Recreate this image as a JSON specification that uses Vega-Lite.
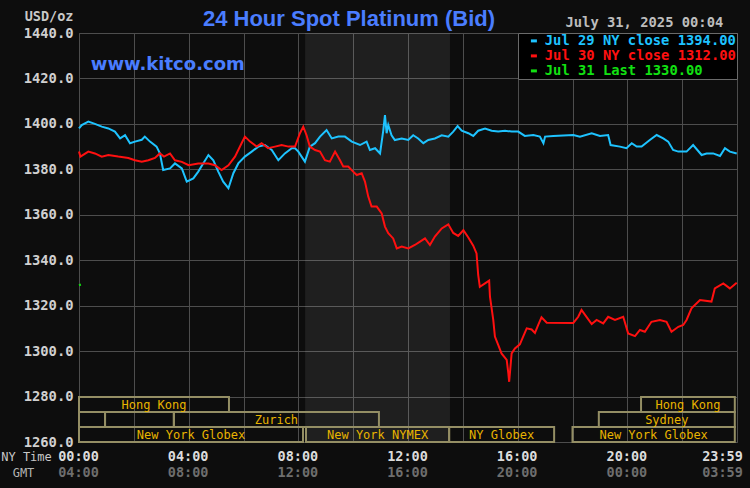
{
  "$schema": "https://vega.github.io/schema/vega-lite/v6.json",
  "width": 658,
  "height": 409,
  "autosize": {"type": "none"},
  "padding": {"left": 79, "top": 33, "right": 13, "bottom": 46},
  "background": "#0d0d0d",
  "title": {
    "text": "24 Hour Spot Platinum (Bid)",
    "font": "Liberation Sans",
    "fontSize": 22,
    "fontWeight": "bold",
    "color": "#4a7dff",
    "anchor": "middle",
    "dx": -59,
    "offset": -39,
    "baseline": "alphabetic"
  },
  "config": {
    "view": {"stroke": "#4d4d4d", "strokeWidth": 1},
    "legend": {
      "orient": "top-right",
      "offset": 0,
      "padding": 1,
      "fillColor": "#000000",
      "strokeColor": "#6a6a6a",
      "symbolType": "stroke",
      "symbolSize": 36,
      "symbolStrokeWidth": 3,
      "symbolOffset": 8,
      "labelFont": "DejaVu Sans Mono",
      "labelFontWeight": "bold",
      "labelFontSize": 13.8,
      "labelOffset": 4,
      "labelLimit": 400,
      "rowPadding": 0
    }
  },
  "datasets": {
    "nymex": [{"start": 8.25, "end": 13.53}],
    "sessions": [
      {"id": 1, "session": "Hong Kong", "lane": "1", "start": 0, "end": 5.47},
      {"id": 2, "session": "", "lane": "2", "start": 0, "end": 0.95},
      {"id": 3, "session": "", "lane": "2", "start": 0.95, "end": 3.46},
      {"id": 4, "session": "Zurich", "lane": "2", "start": 3.46, "end": 10.94},
      {"id": 5, "session": "New York Globex", "lane": "3", "start": 0, "end": 8.17},
      {"id": 6, "session": "New York NYMEX", "lane": "3", "start": 8.28, "end": 13.5},
      {"id": 7, "session": "NY Globex", "lane": "3", "start": 13.5, "end": 17.33},
      {"id": 8, "session": "New York Globex", "lane": "3", "start": 18.0, "end": 23.92},
      {"id": 9, "session": "Sydney", "lane": "2", "start": 18.96, "end": 23.92},
      {"id": 10, "session": "Hong Kong", "lane": "1", "start": 20.5, "end": 23.92}
    ],
    "prices": [
      {"series": "Jul 29 NY close 1394.00", "hour": 0, "price": 1398},
      {"series": "Jul 29 NY close 1394.00", "hour": 0.1, "price": 1399.5},
      {"series": "Jul 29 NY close 1394.00", "hour": 0.34, "price": 1401},
      {"series": "Jul 29 NY close 1394.00", "hour": 0.58, "price": 1400},
      {"series": "Jul 29 NY close 1394.00", "hour": 0.83, "price": 1398.8},
      {"series": "Jul 29 NY close 1394.00", "hour": 1.07, "price": 1398},
      {"series": "Jul 29 NY close 1394.00", "hour": 1.31, "price": 1396.6},
      {"series": "Jul 29 NY close 1394.00", "hour": 1.5, "price": 1393.6},
      {"series": "Jul 29 NY close 1394.00", "hour": 1.68, "price": 1395},
      {"series": "Jul 29 NY close 1394.00", "hour": 1.86, "price": 1391.5},
      {"series": "Jul 29 NY close 1394.00", "hour": 2.04, "price": 1392.2},
      {"series": "Jul 29 NY close 1394.00", "hour": 2.29, "price": 1393},
      {"series": "Jul 29 NY close 1394.00", "hour": 2.4, "price": 1394.4},
      {"series": "Jul 29 NY close 1394.00", "hour": 2.59, "price": 1392.2},
      {"series": "Jul 29 NY close 1394.00", "hour": 2.83, "price": 1390},
      {"series": "Jul 29 NY close 1394.00", "hour": 2.95, "price": 1387},
      {"series": "Jul 29 NY close 1394.00", "hour": 3.07, "price": 1379.7},
      {"series": "Jul 29 NY close 1394.00", "hour": 3.32, "price": 1380.4},
      {"series": "Jul 29 NY close 1394.00", "hour": 3.5, "price": 1382.6},
      {"series": "Jul 29 NY close 1394.00", "hour": 3.75, "price": 1380.4},
      {"series": "Jul 29 NY close 1394.00", "hour": 3.93, "price": 1374.6},
      {"series": "Jul 29 NY close 1394.00", "hour": 4.17, "price": 1376},
      {"series": "Jul 29 NY close 1394.00", "hour": 4.35, "price": 1379},
      {"series": "Jul 29 NY close 1394.00", "hour": 4.53, "price": 1382.6},
      {"series": "Jul 29 NY close 1394.00", "hour": 4.72, "price": 1386.3},
      {"series": "Jul 29 NY close 1394.00", "hour": 4.9, "price": 1384},
      {"series": "Jul 29 NY close 1394.00", "hour": 5.08, "price": 1379},
      {"series": "Jul 29 NY close 1394.00", "hour": 5.26, "price": 1374.6},
      {"series": "Jul 29 NY close 1394.00", "hour": 5.45, "price": 1371.7},
      {"series": "Jul 29 NY close 1394.00", "hour": 5.63, "price": 1378.3},
      {"series": "Jul 29 NY close 1394.00", "hour": 5.81, "price": 1382.6},
      {"series": "Jul 29 NY close 1394.00", "hour": 6.05, "price": 1385.6},
      {"series": "Jul 29 NY close 1394.00", "hour": 6.3, "price": 1387.8},
      {"series": "Jul 29 NY close 1394.00", "hour": 6.54, "price": 1390},
      {"series": "Jul 29 NY close 1394.00", "hour": 6.78, "price": 1390.7},
      {"series": "Jul 29 NY close 1394.00", "hour": 7.03, "price": 1388.5},
      {"series": "Jul 29 NY close 1394.00", "hour": 7.27, "price": 1384},
      {"series": "Jul 29 NY close 1394.00", "hour": 7.51, "price": 1387},
      {"series": "Jul 29 NY close 1394.00", "hour": 7.76, "price": 1389.3},
      {"series": "Jul 29 NY close 1394.00", "hour": 7.88, "price": 1389.3},
      {"series": "Jul 29 NY close 1394.00", "hour": 8.0, "price": 1387.8},
      {"series": "Jul 29 NY close 1394.00", "hour": 8.24, "price": 1383.4},
      {"series": "Jul 29 NY close 1394.00", "hour": 8.42, "price": 1390},
      {"series": "Jul 29 NY close 1394.00", "hour": 8.61, "price": 1391.5},
      {"series": "Jul 29 NY close 1394.00", "hour": 8.79, "price": 1394.4},
      {"series": "Jul 29 NY close 1394.00", "hour": 9.03, "price": 1397.3},
      {"series": "Jul 29 NY close 1394.00", "hour": 9.22, "price": 1393.6},
      {"series": "Jul 29 NY close 1394.00", "hour": 9.46, "price": 1394.4},
      {"series": "Jul 29 NY close 1394.00", "hour": 9.7, "price": 1394.4},
      {"series": "Jul 29 NY close 1394.00", "hour": 9.95, "price": 1392.2},
      {"series": "Jul 29 NY close 1394.00", "hour": 10.25, "price": 1390.7},
      {"series": "Jul 29 NY close 1394.00", "hour": 10.49, "price": 1392.2},
      {"series": "Jul 29 NY close 1394.00", "hour": 10.61, "price": 1388.5},
      {"series": "Jul 29 NY close 1394.00", "hour": 10.8, "price": 1389.3},
      {"series": "Jul 29 NY close 1394.00", "hour": 10.98, "price": 1387},
      {"series": "Jul 29 NY close 1394.00", "hour": 11.1, "price": 1397.3},
      {"series": "Jul 29 NY close 1394.00", "hour": 11.16, "price": 1403.9},
      {"series": "Jul 29 NY close 1394.00", "hour": 11.22, "price": 1395.9},
      {"series": "Jul 29 NY close 1394.00", "hour": 11.28, "price": 1399.5},
      {"series": "Jul 29 NY close 1394.00", "hour": 11.4, "price": 1395},
      {"series": "Jul 29 NY close 1394.00", "hour": 11.52, "price": 1392.9},
      {"series": "Jul 29 NY close 1394.00", "hour": 11.77, "price": 1393.6},
      {"series": "Jul 29 NY close 1394.00", "hour": 12.01, "price": 1392.9},
      {"series": "Jul 29 NY close 1394.00", "hour": 12.19, "price": 1395},
      {"series": "Jul 29 NY close 1394.00", "hour": 12.37, "price": 1393.6},
      {"series": "Jul 29 NY close 1394.00", "hour": 12.56, "price": 1391.5},
      {"series": "Jul 29 NY close 1394.00", "hour": 12.74, "price": 1392.9},
      {"series": "Jul 29 NY close 1394.00", "hour": 12.98, "price": 1393.6},
      {"series": "Jul 29 NY close 1394.00", "hour": 13.23, "price": 1395},
      {"series": "Jul 29 NY close 1394.00", "hour": 13.47, "price": 1394.4},
      {"series": "Jul 29 NY close 1394.00", "hour": 13.65, "price": 1396.6},
      {"series": "Jul 29 NY close 1394.00", "hour": 13.81, "price": 1399},
      {"series": "Jul 29 NY close 1394.00", "hour": 13.96, "price": 1397},
      {"series": "Jul 29 NY close 1394.00", "hour": 14.2, "price": 1395.9},
      {"series": "Jul 29 NY close 1394.00", "hour": 14.38, "price": 1394.7},
      {"series": "Jul 29 NY close 1394.00", "hour": 14.56, "price": 1397},
      {"series": "Jul 29 NY close 1394.00", "hour": 14.81, "price": 1398},
      {"series": "Jul 29 NY close 1394.00", "hour": 15.05, "price": 1397},
      {"series": "Jul 29 NY close 1394.00", "hour": 15.29, "price": 1396.6},
      {"series": "Jul 29 NY close 1394.00", "hour": 15.54, "price": 1397},
      {"series": "Jul 29 NY close 1394.00", "hour": 15.78, "price": 1396.6},
      {"series": "Jul 29 NY close 1394.00", "hour": 16.02, "price": 1396.6},
      {"series": "Jul 29 NY close 1394.00", "hour": 16.26, "price": 1394.7},
      {"series": "Jul 29 NY close 1394.00", "hour": 16.57, "price": 1395.1},
      {"series": "Jul 29 NY close 1394.00", "hour": 16.81, "price": 1394.4},
      {"series": "Jul 29 NY close 1394.00", "hour": 16.94, "price": 1391.5},
      {"series": "Jul 29 NY close 1394.00", "hour": 17.0, "price": 1394.4},
      {"series": "Jul 29 NY close 1394.00", "hour": 17.3, "price": 1394.7},
      {"series": "Jul 29 NY close 1394.00", "hour": 18.03, "price": 1395.1},
      {"series": "Jul 29 NY close 1394.00", "hour": 18.27, "price": 1394.4},
      {"series": "Jul 29 NY close 1394.00", "hour": 18.7, "price": 1395.9},
      {"series": "Jul 29 NY close 1394.00", "hour": 19.0, "price": 1394.7},
      {"series": "Jul 29 NY close 1394.00", "hour": 19.3, "price": 1395.1},
      {"series": "Jul 29 NY close 1394.00", "hour": 19.39, "price": 1390.7},
      {"series": "Jul 29 NY close 1394.00", "hour": 19.73, "price": 1390},
      {"series": "Jul 29 NY close 1394.00", "hour": 19.97, "price": 1389.3},
      {"series": "Jul 29 NY close 1394.00", "hour": 20.16, "price": 1391.5},
      {"series": "Jul 29 NY close 1394.00", "hour": 20.34, "price": 1390},
      {"series": "Jul 29 NY close 1394.00", "hour": 20.52, "price": 1390},
      {"series": "Jul 29 NY close 1394.00", "hour": 20.82, "price": 1392.9},
      {"series": "Jul 29 NY close 1394.00", "hour": 21.07, "price": 1395.1},
      {"series": "Jul 29 NY close 1394.00", "hour": 21.31, "price": 1393.6},
      {"series": "Jul 29 NY close 1394.00", "hour": 21.49, "price": 1392.2},
      {"series": "Jul 29 NY close 1394.00", "hour": 21.67, "price": 1388.5},
      {"series": "Jul 29 NY close 1394.00", "hour": 21.86, "price": 1387.8},
      {"series": "Jul 29 NY close 1394.00", "hour": 22.16, "price": 1387.8},
      {"series": "Jul 29 NY close 1394.00", "hour": 22.4, "price": 1390.7},
      {"series": "Jul 29 NY close 1394.00", "hour": 22.71, "price": 1386.3},
      {"series": "Jul 29 NY close 1394.00", "hour": 22.89, "price": 1387},
      {"series": "Jul 29 NY close 1394.00", "hour": 23.13, "price": 1387},
      {"series": "Jul 29 NY close 1394.00", "hour": 23.38, "price": 1385.9},
      {"series": "Jul 29 NY close 1394.00", "hour": 23.56, "price": 1389.3},
      {"series": "Jul 29 NY close 1394.00", "hour": 23.74, "price": 1387.8},
      {"series": "Jul 29 NY close 1394.00", "hour": 23.99, "price": 1387},
      {"series": "Jul 30 NY close 1312.00", "hour": 0, "price": 1387.8},
      {"series": "Jul 30 NY close 1312.00", "hour": 0.05, "price": 1385.6},
      {"series": "Jul 30 NY close 1312.00", "hour": 0.34, "price": 1387.8},
      {"series": "Jul 30 NY close 1312.00", "hour": 0.58, "price": 1387},
      {"series": "Jul 30 NY close 1312.00", "hour": 0.83, "price": 1385.6},
      {"series": "Jul 30 NY close 1312.00", "hour": 1.07, "price": 1386.3},
      {"series": "Jul 30 NY close 1312.00", "hour": 1.43, "price": 1385.6},
      {"series": "Jul 30 NY close 1312.00", "hour": 1.8, "price": 1385},
      {"series": "Jul 30 NY close 1312.00", "hour": 2.04, "price": 1384},
      {"series": "Jul 30 NY close 1312.00", "hour": 2.29, "price": 1383.3},
      {"series": "Jul 30 NY close 1312.00", "hour": 2.53, "price": 1384},
      {"series": "Jul 30 NY close 1312.00", "hour": 2.77, "price": 1385},
      {"series": "Jul 30 NY close 1312.00", "hour": 2.95, "price": 1387},
      {"series": "Jul 30 NY close 1312.00", "hour": 3.1, "price": 1385.6},
      {"series": "Jul 30 NY close 1312.00", "hour": 3.32, "price": 1387},
      {"series": "Jul 30 NY close 1312.00", "hour": 3.5, "price": 1384},
      {"series": "Jul 30 NY close 1312.00", "hour": 3.75, "price": 1383.3},
      {"series": "Jul 30 NY close 1312.00", "hour": 4.0, "price": 1381.8},
      {"series": "Jul 30 NY close 1312.00", "hour": 4.35, "price": 1382.6},
      {"series": "Jul 30 NY close 1312.00", "hour": 4.72, "price": 1382.6},
      {"series": "Jul 30 NY close 1312.00", "hour": 4.96, "price": 1381.8},
      {"series": "Jul 30 NY close 1312.00", "hour": 5.2, "price": 1379.7},
      {"series": "Jul 30 NY close 1312.00", "hour": 5.45, "price": 1381.8},
      {"series": "Jul 30 NY close 1312.00", "hour": 5.69, "price": 1385.6},
      {"series": "Jul 30 NY close 1312.00", "hour": 5.93, "price": 1391.5},
      {"series": "Jul 30 NY close 1312.00", "hour": 6.05, "price": 1394.4},
      {"series": "Jul 30 NY close 1312.00", "hour": 6.24, "price": 1392.2},
      {"series": "Jul 30 NY close 1312.00", "hour": 6.48, "price": 1390},
      {"series": "Jul 30 NY close 1312.00", "hour": 6.66, "price": 1391.5},
      {"series": "Jul 30 NY close 1312.00", "hour": 6.9, "price": 1389.3},
      {"series": "Jul 30 NY close 1312.00", "hour": 7.15, "price": 1390},
      {"series": "Jul 30 NY close 1312.00", "hour": 7.39, "price": 1390.7},
      {"series": "Jul 30 NY close 1312.00", "hour": 7.64, "price": 1390},
      {"series": "Jul 30 NY close 1312.00", "hour": 7.88, "price": 1390},
      {"series": "Jul 30 NY close 1312.00", "hour": 8.06, "price": 1395.9},
      {"series": "Jul 30 NY close 1312.00", "hour": 8.18, "price": 1398.8},
      {"series": "Jul 30 NY close 1312.00", "hour": 8.3, "price": 1395},
      {"series": "Jul 30 NY close 1312.00", "hour": 8.42, "price": 1390},
      {"series": "Jul 30 NY close 1312.00", "hour": 8.61, "price": 1388.5},
      {"series": "Jul 30 NY close 1312.00", "hour": 8.79, "price": 1387.8},
      {"series": "Jul 30 NY close 1312.00", "hour": 8.97, "price": 1384},
      {"series": "Jul 30 NY close 1312.00", "hour": 9.15, "price": 1383.4},
      {"series": "Jul 30 NY close 1312.00", "hour": 9.34, "price": 1387.8},
      {"series": "Jul 30 NY close 1312.00", "hour": 9.52, "price": 1384},
      {"series": "Jul 30 NY close 1312.00", "hour": 9.64, "price": 1381.2},
      {"series": "Jul 30 NY close 1312.00", "hour": 9.82, "price": 1381.2},
      {"series": "Jul 30 NY close 1312.00", "hour": 10.0, "price": 1379},
      {"series": "Jul 30 NY close 1312.00", "hour": 10.13, "price": 1377.5},
      {"series": "Jul 30 NY close 1312.00", "hour": 10.31, "price": 1378.3},
      {"series": "Jul 30 NY close 1312.00", "hour": 10.43, "price": 1374.6},
      {"series": "Jul 30 NY close 1312.00", "hour": 10.55, "price": 1368},
      {"series": "Jul 30 NY close 1312.00", "hour": 10.67, "price": 1363.6},
      {"series": "Jul 30 NY close 1312.00", "hour": 10.86, "price": 1363.6},
      {"series": "Jul 30 NY close 1312.00", "hour": 11.04, "price": 1360.6},
      {"series": "Jul 30 NY close 1312.00", "hour": 11.16, "price": 1354.8},
      {"series": "Jul 30 NY close 1312.00", "hour": 11.28, "price": 1351.9},
      {"series": "Jul 30 NY close 1312.00", "hour": 11.46, "price": 1349.6},
      {"series": "Jul 30 NY close 1312.00", "hour": 11.59, "price": 1345.2},
      {"series": "Jul 30 NY close 1312.00", "hour": 11.77, "price": 1346},
      {"series": "Jul 30 NY close 1312.00", "hour": 12.01, "price": 1345.2},
      {"series": "Jul 30 NY close 1312.00", "hour": 12.25, "price": 1346.7},
      {"series": "Jul 30 NY close 1312.00", "hour": 12.44, "price": 1348.2},
      {"series": "Jul 30 NY close 1312.00", "hour": 12.62, "price": 1349.6},
      {"series": "Jul 30 NY close 1312.00", "hour": 12.8, "price": 1346.7},
      {"series": "Jul 30 NY close 1312.00", "hour": 12.98, "price": 1350.4},
      {"series": "Jul 30 NY close 1312.00", "hour": 13.23, "price": 1354},
      {"series": "Jul 30 NY close 1312.00", "hour": 13.47, "price": 1355.8},
      {"series": "Jul 30 NY close 1312.00", "hour": 13.65, "price": 1352},
      {"series": "Jul 30 NY close 1312.00", "hour": 13.83, "price": 1350.7},
      {"series": "Jul 30 NY close 1312.00", "hour": 14.02, "price": 1353.2},
      {"series": "Jul 30 NY close 1312.00", "hour": 14.2, "price": 1350},
      {"series": "Jul 30 NY close 1312.00", "hour": 14.38, "price": 1346.4},
      {"series": "Jul 30 NY close 1312.00", "hour": 14.5, "price": 1343},
      {"series": "Jul 30 NY close 1312.00", "hour": 14.56, "price": 1333.5},
      {"series": "Jul 30 NY close 1312.00", "hour": 14.62, "price": 1328.3},
      {"series": "Jul 30 NY close 1312.00", "hour": 14.81, "price": 1329.8},
      {"series": "Jul 30 NY close 1312.00", "hour": 14.96, "price": 1331},
      {"series": "Jul 30 NY close 1312.00", "hour": 14.99, "price": 1324},
      {"series": "Jul 30 NY close 1312.00", "hour": 15.11, "price": 1313.7},
      {"series": "Jul 30 NY close 1312.00", "hour": 15.17, "price": 1306.4},
      {"series": "Jul 30 NY close 1312.00", "hour": 15.29, "price": 1302.7},
      {"series": "Jul 30 NY close 1312.00", "hour": 15.41, "price": 1299},
      {"series": "Jul 30 NY close 1312.00", "hour": 15.6, "price": 1296.1},
      {"series": "Jul 30 NY close 1312.00", "hour": 15.66, "price": 1290.2},
      {"series": "Jul 30 NY close 1312.00", "hour": 15.69, "price": 1286.5},
      {"series": "Jul 30 NY close 1312.00", "hour": 15.78, "price": 1299},
      {"series": "Jul 30 NY close 1312.00", "hour": 15.9, "price": 1301.2},
      {"series": "Jul 30 NY close 1312.00", "hour": 16.08, "price": 1303},
      {"series": "Jul 30 NY close 1312.00", "hour": 16.2, "price": 1306.4},
      {"series": "Jul 30 NY close 1312.00", "hour": 16.33, "price": 1310},
      {"series": "Jul 30 NY close 1312.00", "hour": 16.51, "price": 1309.5},
      {"series": "Jul 30 NY close 1312.00", "hour": 16.63, "price": 1308},
      {"series": "Jul 30 NY close 1312.00", "hour": 16.75, "price": 1311.5},
      {"series": "Jul 30 NY close 1312.00", "hour": 16.87, "price": 1314.9},
      {"series": "Jul 30 NY close 1312.00", "hour": 17.06, "price": 1312.5},
      {"series": "Jul 30 NY close 1312.00", "hour": 18.03, "price": 1312.4},
      {"series": "Jul 30 NY close 1312.00", "hour": 18.21, "price": 1315.1},
      {"series": "Jul 30 NY close 1312.00", "hour": 18.33, "price": 1318.1},
      {"series": "Jul 30 NY close 1312.00", "hour": 18.51, "price": 1315.1},
      {"series": "Jul 30 NY close 1312.00", "hour": 18.7, "price": 1311.9},
      {"series": "Jul 30 NY close 1312.00", "hour": 18.88, "price": 1313.7},
      {"series": "Jul 30 NY close 1312.00", "hour": 19.12, "price": 1312.2},
      {"series": "Jul 30 NY close 1312.00", "hour": 19.3, "price": 1315.1},
      {"series": "Jul 30 NY close 1312.00", "hour": 19.55, "price": 1313.7},
      {"series": "Jul 30 NY close 1312.00", "hour": 19.85, "price": 1315.1},
      {"series": "Jul 30 NY close 1312.00", "hour": 20.03, "price": 1307.8},
      {"series": "Jul 30 NY close 1312.00", "hour": 20.28, "price": 1306.6},
      {"series": "Jul 30 NY close 1312.00", "hour": 20.46, "price": 1309.3},
      {"series": "Jul 30 NY close 1312.00", "hour": 20.64, "price": 1308.5},
      {"series": "Jul 30 NY close 1312.00", "hour": 20.88, "price": 1312.9},
      {"series": "Jul 30 NY close 1312.00", "hour": 21.19, "price": 1313.7},
      {"series": "Jul 30 NY close 1312.00", "hour": 21.43, "price": 1312.9},
      {"series": "Jul 30 NY close 1312.00", "hour": 21.61, "price": 1308.5},
      {"series": "Jul 30 NY close 1312.00", "hour": 21.86, "price": 1310.7},
      {"series": "Jul 30 NY close 1312.00", "hour": 22.04, "price": 1311.5},
      {"series": "Jul 30 NY close 1312.00", "hour": 22.16, "price": 1313.7},
      {"series": "Jul 30 NY close 1312.00", "hour": 22.34, "price": 1318.8},
      {"series": "Jul 30 NY close 1312.00", "hour": 22.65, "price": 1322.5},
      {"series": "Jul 30 NY close 1312.00", "hour": 23.07, "price": 1321.8},
      {"series": "Jul 30 NY close 1312.00", "hour": 23.19, "price": 1327.6},
      {"series": "Jul 30 NY close 1312.00", "hour": 23.5, "price": 1329.8},
      {"series": "Jul 30 NY close 1312.00", "hour": 23.74, "price": 1327.6},
      {"series": "Jul 30 NY close 1312.00", "hour": 23.99, "price": 1330.1},
      {"series": "Jul 31 Last 1330.00", "hour": 0, "price": 1329},
      {"series": "Jul 31 Last 1330.00", "hour": 0.07, "price": 1329.3}
    ]
  },
  "layer": [
    {
      "layer": [
        {
          "data": {"name": "nymex"},
          "mark": {"type": "rect", "fill": "#ffffff", "opacity": 0.08},
          "encoding": {
            "x": {"field": "start", "type": "quantitative", "scale": {"domain": [0, 24], "nice": false, "zero": false}},
            "x2": {"field": "end"}
          }
        },
        {
          "data": {"name": "prices"},
          "mark": {"type": "line", "strokeWidth": 2},
          "encoding": {
            "x": {
              "field": "hour",
              "type": "quantitative",
              "scale": {"domain": [0, 24], "nice": false, "zero": false},
              "axis": {
                "orient": "bottom",
                "values": [0, 2, 4, 6, 8, 10, 12, 14, 16, 18, 20, 22, 24],
                "labelExpr": "datum.value % 4 != 0 ? '' : (datum.value == 24 ? '23:59' : pad(toString(datum.value), 2, '0', 'left') + ':00')",
                "grid": true,
                "gridColor": "#4d4d4d",
                "gridWidth": 1,
                "ticks": false,
                "tickSize": 0,
                "domain": false,
                "labelFont": "DejaVu Sans Mono",
                "labelFontWeight": "bold",
                "labelFontSize": 13.5,
                "labelColor": "#dcdcdc",
                "labelBaseline": "middle",
                "labelPadding": 14,
                "labelFlush": false,
                "labelOverlap": false,
                "labelBound": false,
                "labelOffset": {"condition": {"test": "datum.value == 24", "value": -15}, "value": -1},
                "title": "NY Time",
                "titleFont": "DejaVu Sans Mono",
                "titleFontSize": 12,
                "titleFontWeight": "normal",
                "titleColor": "#c8c8c8",
                "titleAlign": "center",
                "titleBaseline": "middle",
                "titleAnchor": null,
                "titleX": -53,
                "titleY": 14.5
              }
            },
            "y": {
              "field": "price",
              "type": "quantitative",
              "scale": {"domain": [1260, 1440], "nice": false, "zero": false},
              "axis": {
                "values": [1260, 1280, 1300, 1320, 1340, 1360, 1380, 1400, 1420, 1440],
                "format": ".1f",
                "grid": true,
                "gridColor": "#4d4d4d",
                "gridWidth": 1,
                "ticks": false,
                "tickSize": 0,
                "domain": false,
                "labelFont": "DejaVu Sans Mono",
                "labelFontWeight": "bold",
                "labelFontSize": 13.8,
                "labelColor": "#d0d0d0",
                "labelPadding": 6,
                "labelBaseline": "middle",
                "labelFlush": false,
                "labelOverlap": false,
                "title": "USD/oz",
                "titleAngle": 0,
                "titleAlign": "right",
                "titleBaseline": "middle",
                "titleAnchor": null,
                "titleX": -6,
                "titleY": -17,
                "titleFont": "DejaVu Sans Mono",
                "titleFontSize": 13.5,
                "titleFontWeight": "bold",
                "titleColor": "#c8c8c8"
              }
            },
            "color": {
              "field": "series",
              "type": "nominal",
              "scale": {
                "domain": ["Jul 29 NY close 1394.00", "Jul 30 NY close 1312.00", "Jul 31 Last 1330.00"],
                "range": ["#1ec3ff", "#ff1010", "#12e012"]
              },
              "legend": {
                "title": null,
                "labelExpr": "datum.label + ' '",
                "encode": {
                  "labels": {"update": {"fill": {"scale": "color", "field": "value"}}}
                }
              }
            }
          }
        },
        {
          "data": {"values": [{"label": "www.kitco.com"}]},
          "mark": {"type": "text", "font": "DejaVu Sans", "fontWeight": "bold", "fontSize": 18, "color": "#4a7dff", "align": "left", "baseline": "middle"},
          "encoding": {
            "x": {"datum": 0.43, "type": "quantitative"},
            "y": {"datum": 1426, "type": "quantitative"},
            "text": {"field": "label"}
          }
        },
        {
          "data": {"values": [{"label": "July 31, 2025 00:04"}]},
          "mark": {"type": "text", "font": "DejaVu Sans Mono", "fontWeight": "bold", "fontSize": 13.8, "color": "#bdbdbd", "align": "right", "baseline": "middle", "dy": -10},
          "encoding": {
            "x": {"datum": 23.5, "type": "quantitative"},
            "y": {"datum": 1440, "type": "quantitative"},
            "text": {"field": "label"}
          }
        }
      ]
    },
    {
      "data": {"name": "sessions"},
      "layer": [
        {
          "mark": {"type": "rect", "filled": false, "color": "#948e64", "strokeWidth": 2},
          "encoding": {
            "x": {
              "field": "start",
              "type": "quantitative",
              "scale": {"domain": [0, 24], "nice": false, "zero": false},
              "axis": {
                "orient": "bottom",
                "values": [0, 4, 8, 12, 16, 20, 24],
                "labelExpr": "datum.value == 24 ? '03:59' : pad(toString((datum.value + 4) % 24), 2, '0', 'left') + ':00'",
                "grid": false,
                "ticks": false,
                "tickSize": 0,
                "domain": false,
                "labelFont": "DejaVu Sans Mono",
                "labelFontWeight": "bold",
                "labelFontSize": 13.5,
                "labelColor": "#6e6e6e",
                "labelBaseline": "middle",
                "labelPadding": 30,
                "labelFlush": false,
                "labelOverlap": false,
                "labelBound": false,
                "labelOffset": {"condition": {"test": "datum.value == 24", "value": -15}, "value": -1},
                "title": "GMT",
                "titleFont": "DejaVu Sans Mono",
                "titleFontSize": 12,
                "titleFontWeight": "normal",
                "titleColor": "#b4b4b4",
                "titleAlign": "center",
                "titleBaseline": "middle",
                "titleAnchor": null,
                "titleX": -56,
                "titleY": 30
              }
            },
            "x2": {"field": "end"},
            "y": {
              "field": "lane",
              "type": "ordinal",
              "scale": {"type": "band", "domain": ["3", "2", "1"], "range": [409, 364], "paddingInner": 0, "paddingOuter": 0},
              "axis": null
            }
          }
        },
        {
          "transform": [
            {"filter": "datum.session != ''"},
            {"fold": ["start", "end"], "as": ["edge", "hr"]},
            {"aggregate": [{"op": "mean", "field": "hr", "as": "mid"}], "groupby": ["id", "session", "lane"]}
          ],
          "mark": {"type": "text", "font": "DejaVu Sans Mono", "fontSize": 12, "color": "#e8b400", "align": "center", "baseline": "middle"},
          "encoding": {
            "x": {"field": "mid", "type": "quantitative", "scale": {"domain": [0, 24], "nice": false, "zero": false}},
            "y": {"field": "lane", "type": "ordinal", "scale": {"type": "band", "domain": ["3", "2", "1"], "range": [409, 364], "paddingInner": 0, "paddingOuter": 0}, "axis": null},
            "text": {"field": "session"}
          }
        }
      ]
    }
  ],
  "resolve": {"scale": {"y": "independent"}, "axis": {"x": "independent", "y": "independent"}}
}
